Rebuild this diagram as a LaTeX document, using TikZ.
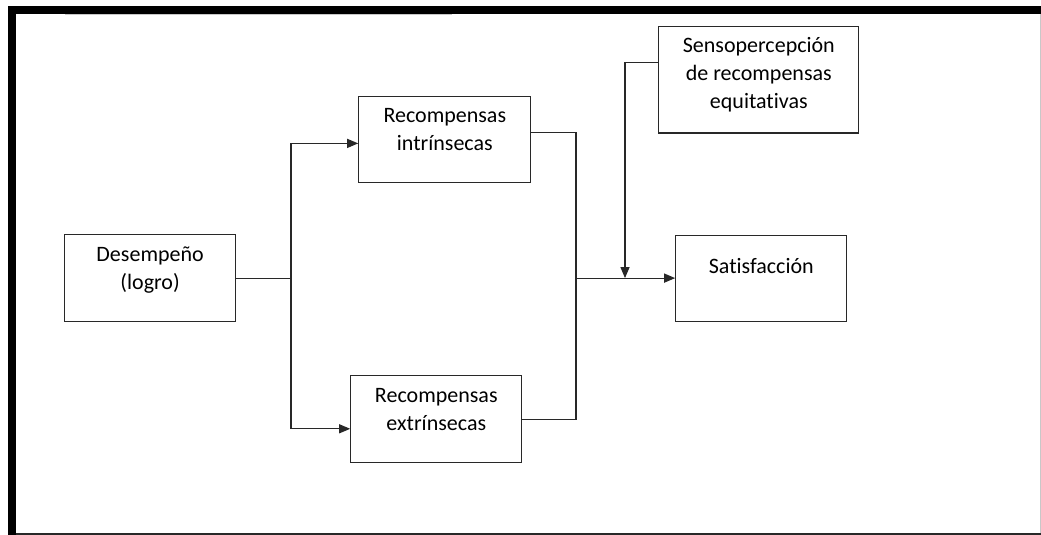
\documentclass[tikz,border=0pt]{standalone}
\usepackage{fontspec}
\setmainfont{Carlito}[Ligatures={NoCommon}]
\usetikzlibrary{arrows.meta, positioning}
\definecolor{linecol}{RGB}{40,40,40}
\definecolor{framegray}{RGB}{200,200,200}
\tikzset{
    box/.style={rectangle, minimum width=171pt, minimum height=87pt, align=center, draw=linecol, line width=1.2pt, font=\fontsize{22}{28}\selectfont},
    link/.style={line width=1.2pt, color=linecol},
    arrow/.style={link, -{Triangle[length=11pt, width=9pt]}}
}

\begin{document}
\begin{tikzpicture}[x=1pt, y=-1pt]
    \useasboundingbox (0,0) rectangle (1041,535);

    % Frame
    \draw[line width=8pt] (1041,10) -- (12,10) -- (12,535);
    \draw[framegray, line width=1pt] (65,15) -- (452,15);
    \draw[framegray, line width=1pt] (1040.5,14) -- (1040.5,535);
    \draw[linecol, line width=2pt] (16,533.5) -- (1041,533.5);

    % Nodes
    \node (desem) [box, anchor=north west] at (64,234) {Desempeño\\(logro)\\[-8pt]};
    \node (intr) [box, minimum width=172pt, minimum height=86pt, above right=51pt and 122pt of desem] {Recompensas\\intrínsecas\\[-9pt]};
    \node (extr) [box, below right=53pt and 114pt of desem] {Recompensas\\extrínsecas\\[-8pt]};
    \node (satis) [box, minimum height=86pt, right=439pt of desem] {Satisfacción\\[-4pt]};
    \node (senso) [box, minimum width=200pt, minimum height=106pt, above=101pt of satis, xshift=-2.5pt] {Sensopercepción\\de recompensas\\equitativas\\[-15pt]};

    % Junctions
    \coordinate (split) at (desem.east -| 291,0);
    \coordinate (join) at (satis.west -| 576,0);
    \coordinate (tap) at (satis.west -| 625,0);

    % Arrows
    \draw [link] (desem.east) -- (split);
    \draw [arrow] (split) |- ([yshift=-4pt]intr.west);
    \draw [arrow] (split) |- ([yshift=-9.5pt]extr.west);
    \draw [link] ([yshift=7pt]intr.east) -| (join) |- (extr.east);
    \draw [arrow] (join) -- (satis.west);
    \draw [arrow] ([yshift=17pt]senso.west) -| (tap);
\end{tikzpicture}
\end{document}
